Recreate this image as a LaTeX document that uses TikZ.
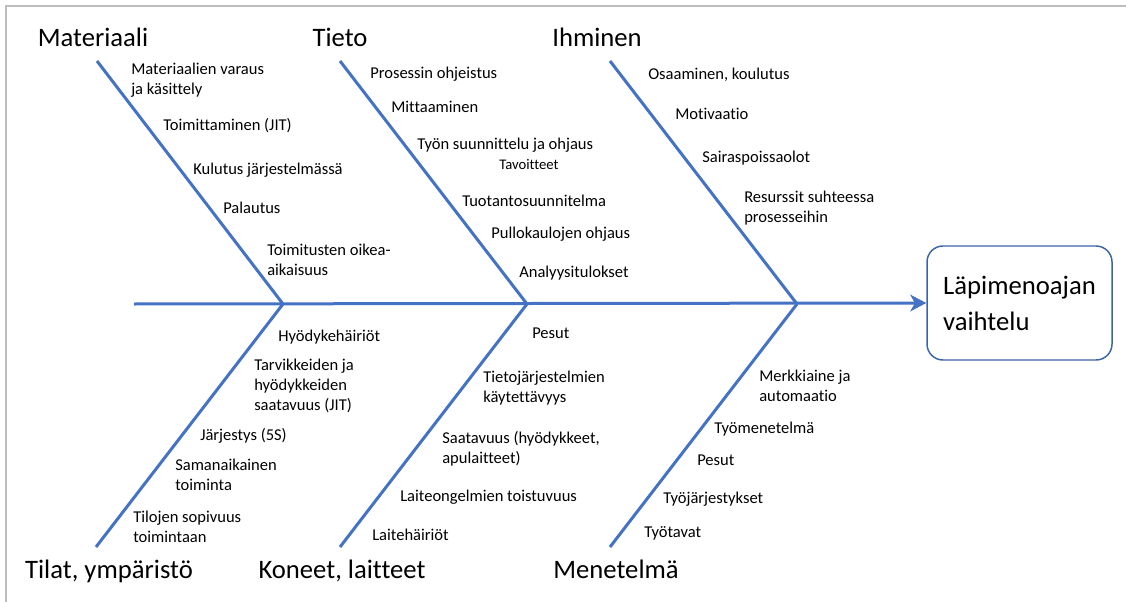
\documentclass[tikz,border=0pt]{standalone}
\usepackage{fontspec}
\setmainfont[Ligatures={NoCommon,NoRare,NoContextual}]{Carlito}
\usetikzlibrary{arrows.meta}
\definecolor{bonecol}{HTML}{4472C4}
\definecolor{boxcol}{HTML}{3A64A8}
\definecolor{framecol}{HTML}{BDBDBD}
\tikzset{
  bone/.style={draw=bonecol, line width=2.25pt},
  spine/.style={bone, -{Stealth[length=12pt, width=12.5pt, inset=3.5pt]}},
  cause/.style={anchor=west, inner sep=0pt, align=left, yshift=-1pt,
    font=\fontsize{12.4pt}{15pt}\selectfont},
  smallcause/.style={cause, font=\fontsize{11pt}{13pt}\selectfont},
  category/.style={anchor=base, inner sep=0pt, font=\fontsize{20pt}{24pt}\selectfont},
  effect/.style={draw=boxcol, line width=1.1pt, rounded corners=12pt,
    minimum width=138.75pt, minimum height=85.5pt, align=left,
    font=\fontsize{20pt}{27pt}\selectfont},
  frame/.style={draw=framecol, line width=1.1pt}
}
\begin{document}
\begin{tikzpicture}[x=0.75pt, y=-0.75pt]
\useasboundingbox (0,0) rectangle (1126,602);
% page frame
\coordinate (fa) at (6,602);
\coordinate (fb) at (6,6);
\coordinate (fc) at (1126,6);
\draw[frame] (fa) -- (fb) -- (fc);

% effect box
\node[effect] (out) at (1019.5,303) {Läpimenoajan\\vaihtelu};

% spine and junctions
\coordinate (tail) at (134,304);
\coordinate (j1) at (283,304);
\coordinate (j2) at (527,304);
\coordinate (j3) at (797,304);
\draw[spine] (tail) -- (out.west);

% bone ends
\coordinate (mat) at (97,61);
\coordinate (tie) at (340,61);
\coordinate (ihm) at (610,61);
\coordinate (til) at (96,547);
\coordinate (kon) at (340,547);
\coordinate (men) at (610,547);
\draw[bone] (mat) -- (j1);
\draw[bone] (tie) -- (j2);
\draw[bone] (ihm) -- (j3);
\draw[bone] (til) -- (j1);
\draw[bone] (kon) -- (j2);
\draw[bone] (men) -- (j3);

% category headings
\node[category] (cmat) at (93,47) {Materiaali};
\node[category] (ctie) at (340,47) {Tieto};
\node[category] (cihm) at (597,47) {Ihminen};
\node[category] (ctil) at (109,578) {Tilat, ympäristö};
\node[category] (ckon) at (342,578) {Koneet, laitteet};
\node[category] (cmen) at (616,578) {Menetelmä};

% Materiaali
\node[cause] (m1) at (131,78.5) {Materiaalien varaus\\ja käsittely};
\node[cause] (m2) at (163,124) {Toimittaminen (JIT)};
\node[cause] (m3) at (193,169) {Kulutus järjestelmässä};
\node[cause] (m4) at (223,206) {Palautus};
\node[cause] (m5) at (267,258) {Toimitusten oikea-\\aikaisuus};

% Tieto
\node[cause] (t1) at (370,73) {Prosessin ohjeistus};
\node[cause] (t2) at (391,106) {Mittaaminen};
\node[cause] (t3) at (417,144) {Työn suunnittelu ja ohjaus};
\node[smallcause] (t4) at (499,163) {Tavoitteet};
\node[cause] (t5) at (462,199) {Tuotantosuunnitelma};
\node[cause] (t6) at (491,233) {Pullokaulojen ohjaus};
\node[cause] (t7) at (519,272) {Analyysitulokset};

% Ihminen
\node[cause] (i1) at (648,73) {Osaaminen, koulutus};
\node[cause] (i2) at (675,113) {Motivaatio};
\node[cause] (i3) at (702,157) {Sairaspoissaolot};
\node[cause] (i4) at (744,207) {Resurssit suhteessa\\prosesseihin};

% Tilat, ympäristö
\node[cause] (s1) at (278,336) {Hyödykehäiriöt};
\node[cause] (s2) at (254,384.5) {Tarvikkeiden ja\\hyödykkeiden\\saatavuus (JIT)};
\node[cause] (s3) at (200,435) {Järjestys (5S)};
\node[cause] (s4) at (175,473) {Samanaikainen\\toiminta};
\node[cause] (s5) at (133,525) {Tilojen sopivuus\\toimintaan};

% Koneet, laitteet
\node[cause] (k1) at (532,332) {Pesut};
\node[cause] (k2) at (483,387) {Tietojärjestelmien\\käytettävyys};
\node[cause] (k3) at (442,447) {Saatavuus (hyödykkeet,\\apulaitteet)};
\node[cause] (k4) at (400,496) {Laiteongelmien toistuvuus};
\node[cause] (k5) at (372,533) {Laitehäiriöt};

% Menetelmä
\node[cause] (e1) at (759,384) {Merkkiaine ja\\automaatio};
\node[cause] (e2) at (714,428) {Työmenetelmä};
\node[cause] (e3) at (697,459) {Pesut};
\node[cause] (e4) at (663,498) {Työjärjestykset};
\node[cause] (e5) at (644,532) {Työtavat};
\end{tikzpicture}
\end{document}
